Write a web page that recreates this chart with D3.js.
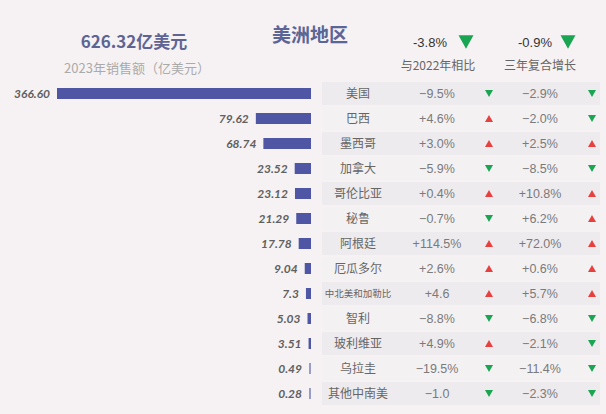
<!DOCTYPE html>
<html>
<head>
<meta charset="utf-8">
<script src="https://cdn.jsdelivr.net/npm/d3@7"></script>
<style>
body { margin: 0; background: #f6f2f3; }
svg { display: block; font-family: "Noto Sans CJK SC", "Noto Sans", sans-serif; }
</style>
</head>
<body>
<div class="canva"></div>
<script>
// daten
const countries = ['美国','巴西','墨西哥','加拿大','哥伦比亚','秘鲁','阿根廷','厄瓜多尔','中北美和加勒比','智利','玻利维亚','乌拉圭','其他中南美'];
const sales = [366.60, 79.62, 68.74, 23.52, 23.12, 21.29, 17.78, 9.04, 7.3, 5.03, 3.51, 0.49, 0.28];
const salesLabels = ['366.60','79.62','68.74','23.52','23.12','21.29','17.78','9.04','7.3','5.03','3.51','0.49','0.28'];
const yoy = ['−9.5%','+4.6%','+3.0%','−5.9%','+0.4%','−0.7%','+114.5%','+2.6%','+4.6','−8.8%','+4.9%','−19.5%','−1.0'];
const yoyUp = [false,true,true,false,true,false,true,true,true,false,true,false,false];
const cagr = ['−2.9%','−2.0%','+2.5%','−8.5%','+10.8%','+6.2%','+72.0%','+0.6%','+5.7%','−6.8%','−2.1%','−11.4%','−2.3%'];
const cagrUp = [false,false,true,false,true,true,true,true,true,false,false,false,false];
const totalLabel = '626.32亿美元';
const subLabel = '2023年销售额（亿美元）';
const region = '美洲地区';
const headYoy = '-3.8%';
const headCagr = '-0.9%';

const W = 606, H = 414;
const svg = d3.select('.canva').append('svg')
  .attr('width', W)
  .attr('height', H);

svg.append('rect').attr('width', W).attr('height', H).attr('fill', '#f6f2f3');

const y = d3.scaleBand()
  .domain(countries)
  .range([81, 406])
  .paddingInner(0)
  .paddingOuter(0);

const x = d3.scaleLinear()
  .domain([0, 366.6])
  .range([0, 254]);

const barRight = 311;
const green = '#1aa552', red = '#e8403e';

// tabelle hintergrund
svg.selectAll('rect.row')
  .data(countries)
  .enter()
  .append('rect')
  .attr('class', 'row')
  .attr('x', 322)
  .attr('y', d => y(d) + 1)
  .attr('width', 278)
  .attr('height', y.bandwidth() - 2)
  .attr('fill', (d, i) => i % 2 == 0 ? '#eeebee' : '#f4f1f3');

// balken
svg.selectAll('rect.bar')
  .data(sales)
  .enter()
  .append('rect')
  .attr('class', 'bar')
  .attr('x', d => barRight - Math.max(x(d), 2))
  .attr('y', (d, i) => y(countries[i]) + y.bandwidth() / 2 - 5.5)
  .attr('width', d => Math.max(x(d), 2))
  .attr('height', 11)
  .attr('fill', d => d < 1 ? '#9a9cc8' : '#4f56a3');

// werte
svg.selectAll('text.val')
  .data(sales)
  .enter()
  .append('text')
  .attr('class', 'val')
  .attr('x', d => barRight - Math.max(x(d), 2) - 7)
  .attr('y', (d, i) => y(countries[i]) + y.bandwidth() / 2)
  .attr('dy', '0.35em')
  .attr('text-anchor', 'end')
  .style('font-family', 'Lato, sans-serif')
  .style('font-style', 'italic')
  .style('font-weight', 'bold')
  .style('font-size', '12px')
  .attr('fill', '#606060')
  .text((d, i) => salesLabels[i]);

// laender
svg.selectAll('text.land')
  .data(countries)
  .enter()
  .append('text')
  .attr('class', 'land')
  .attr('x', 358)
  .attr('y', d => y(d) + y.bandwidth() / 2)
  .attr('dy', '0.35em')
  .attr('text-anchor', 'middle')
  .style('font-size', d => d.length > 5 ? '9.5px' : '12px')
  .attr('fill', '#666')
  .text(d => d);

function tri(sel, cx, cy, up, s) {
  const h = s * 0.9;
  const pts = up
    ? [[cx - s / 2, cy + h / 2], [cx + s / 2, cy + h / 2], [cx, cy - h / 2]]
    : [[cx - s / 2, cy - h / 2], [cx + s / 2, cy - h / 2], [cx, cy + h / 2]];
  sel.append('path')
    .attr('d', d3.line()(pts) + 'Z')
    .attr('fill', up ? red : green);
}

// prozent spalten
const cols = [[437, 489, yoy, yoyUp], [540, 592, cagr, cagrUp]];
cols.forEach(c => {
  svg.selectAll(null)
    .data(c[2])
    .enter()
    .append('text')
    .attr('x', c[0])
    .attr('y', (d, i) => y(countries[i]) + y.bandwidth() / 2)
    .attr('dy', '0.35em')
    .attr('text-anchor', 'middle')
    .style('font-family', '"Liberation Sans", Arial, sans-serif')
    .style('font-size', '12.5px')
    .attr('fill', '#7a7a7a')
    .text(d => d);
  c[3].forEach((up, i) => {
    tri(svg, c[1], y(countries[i]) + y.bandwidth() / 2, up, 8);
  });
});

// kopf
svg.append('text')
  .attr('x', 134).attr('y', 48)
  .attr('text-anchor', 'middle')
  .style('font-size', '17px').style('font-weight', 'bold')
  .attr('fill', '#5f6493')
  .text(totalLabel);

svg.append('text')
  .attr('x', 137).attr('y', 73)
  .attr('text-anchor', 'middle')
  .style('font-size', '13px')
  .attr('fill', '#aaa')
  .text(subLabel);

svg.append('text')
  .attr('x', 310).attr('y', 42)
  .attr('text-anchor', 'middle')
  .style('font-size', '19px').style('font-weight', 'bold')
  .attr('fill', '#5c6696')
  .text(region);

svg.append('text')
  .attr('x', 430).attr('y', 47)
  .attr('text-anchor', 'middle')
  .style('font-family', '"Liberation Sans", Arial, sans-serif')
  .style('font-size', '13px')
  .attr('fill', '#333')
  .text(headYoy);
tri(svg, 466, 42, false, 15);

svg.append('text')
  .attr('x', 535).attr('y', 47)
  .attr('text-anchor', 'middle')
  .style('font-family', '"Liberation Sans", Arial, sans-serif')
  .style('font-size', '13px')
  .attr('fill', '#333')
  .text(headCagr);
tri(svg, 568, 42, false, 15);

svg.append('text')
  .attr('x', 438).attr('y', 70)
  .attr('text-anchor', 'middle')
  .style('font-size', '12px')
  .attr('fill', '#666')
  .text('与2022年相比');

svg.append('text')
  .attr('x', 540).attr('y', 70)
  .attr('text-anchor', 'middle')
  .style('font-size', '12px')
  .attr('fill', '#666')
  .text('三年复合增长');
</script>
</body>
</html>
